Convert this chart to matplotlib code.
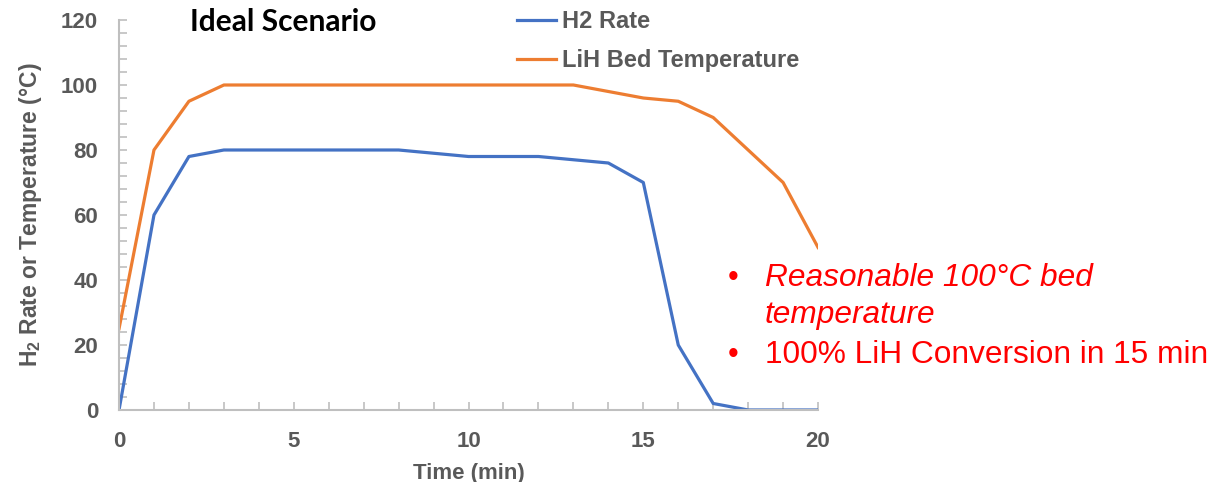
import matplotlib
matplotlib.use('Agg')
import matplotlib.pyplot as plt
from matplotlib.ticker import MultipleLocator

# values
time_min = [0, 1, 2, 3, 4, 5, 6, 7, 8, 9, 10, 11, 12, 13, 14, 15, 16, 17, 18, 19, 20]
h2_rate = [0, 60, 78, 80, 80, 80, 80, 80, 80, 79, 78, 78, 78, 77, 76, 70, 20, 2, 0, 0, 0]
bed_temp = [25, 80, 95, 100, 100, 100, 100, 100, 100, 100, 100, 100, 100, 100, 98, 96, 95, 90, 80, 70, 50]

series_labels = ['H2 Rate', 'LiH Bed Temperature']
notes = ['Reasonable 100°C bed', 'temperature', '100% LiH Conversion in 15 min']

plt.rcParams['font.family'] = ['Liberation Sans', 'DejaVu Sans']
plt.rcParams['mathtext.fontset'] = 'custom'
plt.rcParams['mathtext.rm'] = 'Liberation Sans'
plt.rcParams['mathtext.bf'] = 'Liberation Sans:bold'

grey = '#595959'
axis_grey = '#BFBFBF'

fig = plt.figure(figsize=(12.17, 4.82), dpi=100)
ax = fig.add_axes([0.0978, 0.1494, 0.5744, 0.8091])

ax.plot(time_min, h2_rate, color='#4472C4', lw=2.3, label=series_labels[0])
ax.plot(time_min, bed_temp, color='#ED7D31', lw=2.3, label=series_labels[1])

ax.set_xlim(0, 20)
ax.set_ylim(0, 120)
ax.xaxis.set_major_locator(MultipleLocator(5))
ax.xaxis.set_minor_locator(MultipleLocator(1))
ax.yaxis.set_major_locator(MultipleLocator(20))
ax.yaxis.set_minor_locator(MultipleLocator(4))

for s in ['top', 'right']:
    ax.spines[s].set_visible(False)
for s in ['left', 'bottom']:
    ax.spines[s].set_color(axis_grey)
    ax.spines[s].set_linewidth(1.5)

ax.tick_params(which='both', direction='in', color=axis_grey, width=1.2, length=6)
ax.tick_params(axis='x', which='major', pad=15)
ax.tick_params(axis='y', which='major', pad=15)
for lab in ax.get_xticklabels() + ax.get_yticklabels():
    lab.set_fontsize(16)
    lab.set_fontweight('bold')
    lab.set_color(grey)

ax.set_xlabel('Time (min)', fontsize=16, fontweight='bold', color=grey, labelpad=8)
ax.set_ylabel(r'H$_\mathbf{2}$ Rate or Temperature (°C)', fontsize=16.5, fontweight='bold',
              color=grey, labelpad=12)

fig.text(190 / 1217, 1 - 22 / 482, 'Ideal Scenario', fontsize=21.5,
         fontweight='bold', family=['Lato', 'DejaVu Sans'], color='black', va='center')

leg = ax.legend(loc='upper left', bbox_to_anchor=(505 / 1217, 1 + 2 / 482),
                bbox_transform=fig.transFigure, frameon=False, borderpad=0,
                handlelength=1.65, handletextpad=0.25, labelspacing=0.7,
                prop={'size': 17, 'weight': 'bold'})
for t in leg.get_texts():
    t.set_color(grey)

red = '#FF0000'
fig.text(728 / 1217, 1 - 278 / 482, '•', fontsize=22, color=red, va='center')
fig.text(765 / 1217, 1 - 278 / 482, notes[0], fontsize=22.8, color=red, style='italic', va='center')
fig.text(765 / 1217, 1 - 315 / 482, notes[1], fontsize=22.8, color=red, style='italic', va='center')
fig.text(728 / 1217, 1 - 355 / 482, '•', fontsize=22, color=red, va='center')
fig.text(765 / 1217, 1 - 355 / 482, notes[2], fontsize=22.8, color=red, va='center')

fig.savefig('out.png', dpi=100)
